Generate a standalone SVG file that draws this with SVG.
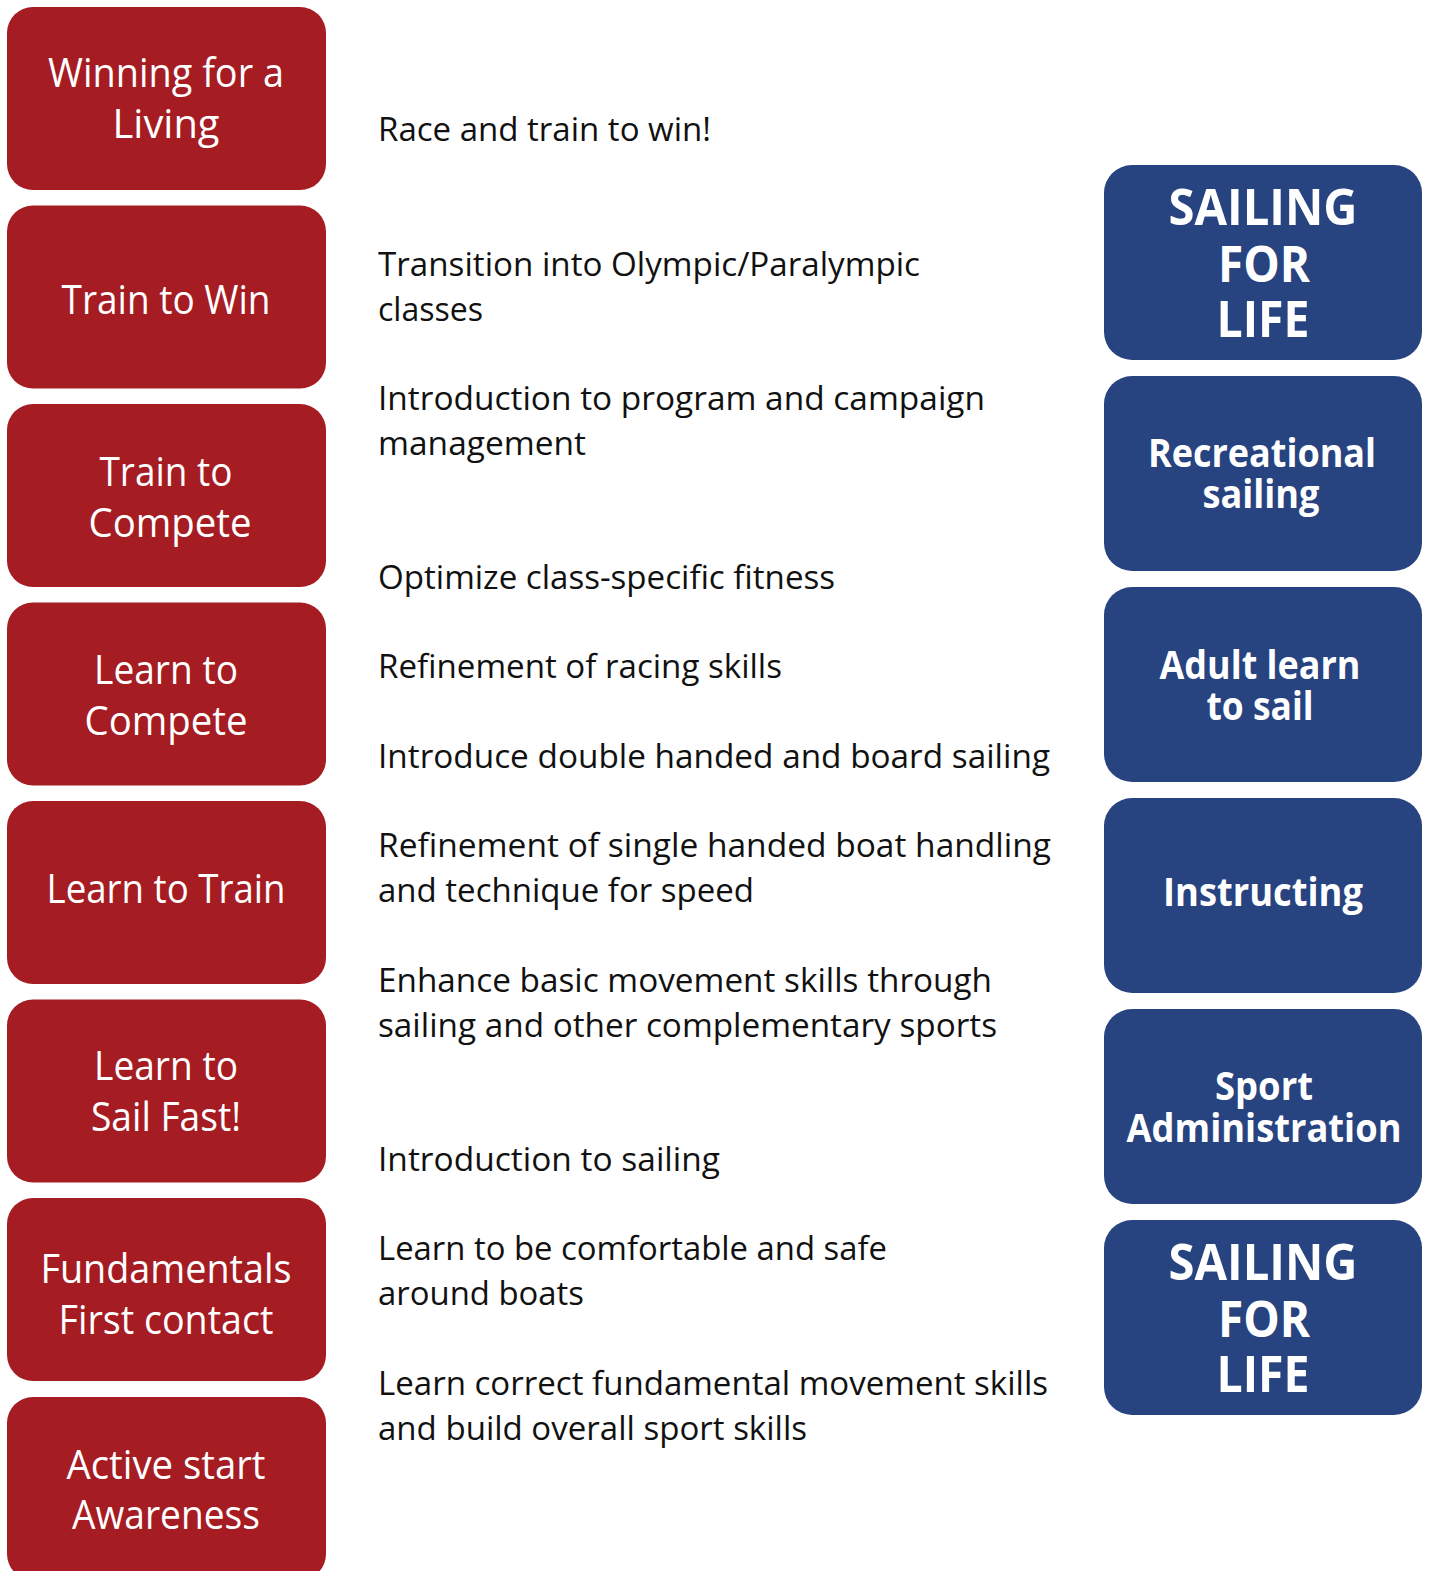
<svg xmlns="http://www.w3.org/2000/svg" width="1429" height="1571" viewBox="0 0 1429 1571">
<style>
.bg{fill:#ffffff}
.red{fill:#A51C23}
.blue{fill:#274380}
.rt{font-family:"Open Sans","Liberation Sans",sans-serif;font-size:40px;fill:#ffffff;text-anchor:middle}
.bt{font-family:"Open Sans","Liberation Sans",sans-serif;font-size:40px;font-weight:bold;fill:#ffffff;text-anchor:middle}
.big{font-size:50px}
.tx{font-family:"Open Sans","Liberation Sans",sans-serif;font-size:33px;fill:#111111}
</style>
<rect class="bg" x="0" y="0" width="1429" height="1571"/>
<g id="stages">
<g id="winning-for-a-living"><rect class="red" x="7" y="7" width="319" height="183" rx="26"/><text class="rt" x="166" y="87" textLength="236" lengthAdjust="spacingAndGlyphs">Winning for a</text><text class="rt" x="166" y="138" textLength="107" lengthAdjust="spacingAndGlyphs">Living</text></g>
<g id="train-to-win"><rect class="red" x="7" y="205.5" width="319" height="183" rx="26"/><text class="rt" x="166" y="314" textLength="209" lengthAdjust="spacingAndGlyphs">Train to Win</text></g>
<g id="train-to-compete"><rect class="red" x="7" y="404" width="319" height="183" rx="26"/><text class="rt" x="166" y="486" textLength="133" lengthAdjust="spacingAndGlyphs">Train to</text><text class="rt" x="170" y="537" textLength="163" lengthAdjust="spacingAndGlyphs">Compete</text></g>
<g id="learn-to-compete"><rect class="red" x="7" y="602.5" width="319" height="183" rx="26"/><text class="rt" x="166" y="684" textLength="144" lengthAdjust="spacingAndGlyphs">Learn to</text><text class="rt" x="166" y="735" textLength="163" lengthAdjust="spacingAndGlyphs">Compete</text></g>
<g id="learn-to-train"><rect class="red" x="7" y="801" width="319" height="183" rx="26"/><text class="rt" x="166" y="903" textLength="239" lengthAdjust="spacingAndGlyphs">Learn to Train</text></g>
<g id="learn-to-sail-fast"><rect class="red" x="7" y="999.5" width="319" height="183" rx="26"/><text class="rt" x="166" y="1080" textLength="144" lengthAdjust="spacingAndGlyphs">Learn to</text><text class="rt" x="166" y="1131" textLength="150" lengthAdjust="spacingAndGlyphs">Sail Fast!</text></g>
<g id="fundamentals"><rect class="red" x="7" y="1198" width="319" height="183" rx="26"/><text class="rt" x="166" y="1283" textLength="251" lengthAdjust="spacingAndGlyphs">Fundamentals</text><text class="rt" x="166" y="1334" textLength="215" lengthAdjust="spacingAndGlyphs">First contact</text></g>
<g id="active-start"><rect class="red" x="7" y="1397" width="319" height="183" rx="26"/><text class="rt" x="166" y="1479" textLength="199" lengthAdjust="spacingAndGlyphs">Active start</text><text class="rt" x="166" y="1529" textLength="188" lengthAdjust="spacingAndGlyphs">Awareness</text></g>
</g>
<g id="descriptions">
<text class="tx" x="378" y="141" textLength="333" lengthAdjust="spacingAndGlyphs">Race and train to win!</text>
<text class="tx" x="378" y="276" textLength="542" lengthAdjust="spacingAndGlyphs">Transition into Olympic/Paralympic</text>
<text class="tx" x="378" y="321" textLength="105" lengthAdjust="spacingAndGlyphs">classes</text>
<text class="tx" x="378" y="410" textLength="607" lengthAdjust="spacingAndGlyphs">Introduction to program and campaign</text>
<text class="tx" x="378" y="455" textLength="208" lengthAdjust="spacingAndGlyphs">management</text>
<text class="tx" x="378" y="589" textLength="457" lengthAdjust="spacingAndGlyphs">Optimize class-specific fitness</text>
<text class="tx" x="378" y="678" textLength="404" lengthAdjust="spacingAndGlyphs">Refinement of racing skills</text>
<text class="tx" x="378" y="768" textLength="672" lengthAdjust="spacingAndGlyphs">Introduce double handed and board sailing</text>
<text class="tx" x="378" y="857" textLength="673" lengthAdjust="spacingAndGlyphs">Refinement of single handed boat handling</text>
<text class="tx" x="378" y="902" textLength="376" lengthAdjust="spacingAndGlyphs">and technique for speed</text>
<text class="tx" x="378" y="992" textLength="614" lengthAdjust="spacingAndGlyphs">Enhance basic movement skills through</text>
<text class="tx" x="378" y="1037" textLength="619" lengthAdjust="spacingAndGlyphs">sailing and other complementary sports</text>
<text class="tx" x="378" y="1171" textLength="342" lengthAdjust="spacingAndGlyphs">Introduction to sailing</text>
<text class="tx" x="378" y="1260" textLength="509" lengthAdjust="spacingAndGlyphs">Learn to be comfortable and safe</text>
<text class="tx" x="378" y="1305" textLength="206" lengthAdjust="spacingAndGlyphs">around boats</text>
<text class="tx" x="378" y="1395" textLength="670" lengthAdjust="spacingAndGlyphs">Learn correct fundamental movement skills</text>
<text class="tx" x="378" y="1440" textLength="429" lengthAdjust="spacingAndGlyphs">and build overall sport skills</text>
</g>
<g id="sailing-for-life">
<g id="sailing-for-life-top"><rect class="blue" x="1104" y="165" width="318" height="195" rx="28"/><text class="bt big" x="1263" y="225" textLength="189" lengthAdjust="spacingAndGlyphs">SAILING</text><text class="bt big" x="1264" y="282" textLength="92" lengthAdjust="spacingAndGlyphs">FOR</text><text class="bt big" x="1263" y="337" textLength="93" lengthAdjust="spacingAndGlyphs">LIFE</text></g>
<g id="recreational-sailing"><rect class="blue" x="1104" y="376" width="318" height="195" rx="28"/><text class="bt" x="1262" y="467" textLength="228" lengthAdjust="spacingAndGlyphs">Recreational</text><text class="bt" x="1261" y="508" textLength="117" lengthAdjust="spacingAndGlyphs">sailing</text></g>
<g id="adult-learn-to-sail"><rect class="blue" x="1104" y="587" width="318" height="195" rx="28"/><text class="bt" x="1260" y="679" textLength="201" lengthAdjust="spacingAndGlyphs">Adult learn</text><text class="bt" x="1260" y="720" textLength="107" lengthAdjust="spacingAndGlyphs">to sail</text></g>
<g id="instructing"><rect class="blue" x="1104" y="798" width="318" height="195" rx="28"/><text class="bt" x="1263" y="906" textLength="200" lengthAdjust="spacingAndGlyphs">Instructing</text></g>
<g id="sport-administration"><rect class="blue" x="1104" y="1009" width="318" height="195" rx="28"/><text class="bt" x="1264" y="1100" textLength="98" lengthAdjust="spacingAndGlyphs">Sport</text><text class="bt" x="1264" y="1142" textLength="275" lengthAdjust="spacingAndGlyphs">Administration</text></g>
<g id="sailing-for-life-bottom"><rect class="blue" x="1104" y="1220" width="318" height="195" rx="28"/><text class="bt big" x="1263" y="1280" textLength="189" lengthAdjust="spacingAndGlyphs">SAILING</text><text class="bt big" x="1264" y="1337" textLength="92" lengthAdjust="spacingAndGlyphs">FOR</text><text class="bt big" x="1263" y="1392" textLength="93" lengthAdjust="spacingAndGlyphs">LIFE</text></g>
</g>
</svg>
